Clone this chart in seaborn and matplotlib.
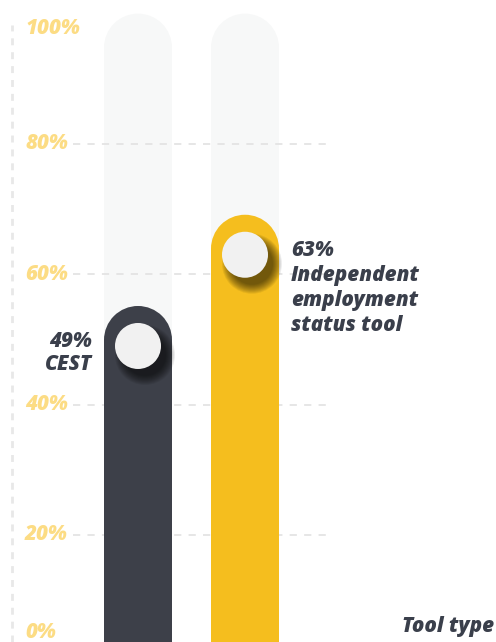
import matplotlib
matplotlib.use("Agg")
import matplotlib.pyplot as plt
from matplotlib.patches import Ellipse, Rectangle
import pandas as pd
import seaborn as sns

# Data
tools = ["CEST", "Independent employment status tool"]
shares = [49, 63]
track = [100, 100]
tick_values = [0, 20, 40, 60, 80, 100]
tick_labels = ["0%", "20%", "40%", "60%", "80%", "100%"]
axis_title = "Tool type"
bar_labels = ["49%\nCEST", "63%\nIndependent\nemployment\nstatus tool"]

sns.set_theme(style="white")
plt.rcParams["font.family"] = ["Open Sans", "DejaVu Sans"]

DARK = "#3d4049"
YELLOW = "#f5be1e"
TRACK = "#f7f8f8"
TICK = "#fcdc84"
TEXT = "#3a3f4b"
GRID = "#e4e4e4"
FW = 800
FS = 14.9

W, H, DPI = 496, 642, 100
fig = plt.figure(figsize=(W / DPI, H / DPI), dpi=DPI)
ax = fig.add_axes([0, 0, 1, 1])

# scales: 107 px between bar centres, 6.517 px per percentage point
px_x = 107.0
px_y = 391.0 / 60.0
x0_px = 138.0
y0_px = -23.3  # pixel height of 0 %
xlim = (-x0_px / px_x, (W - x0_px) / px_x)
ylim = (-y0_px / px_y, (H - y0_px) / px_y)

df = pd.DataFrame({"tool": tools, "share": shares, "track": track})

bar_w = 68.0 / px_x
r_y = 34.0 / px_y  # cap radius in y units
lift = 6.0 / px_y  # cap centre sits slightly above the knob


def rects(axis):
    return [p for p in axis.patches if isinstance(p, Rectangle)]


# background tracks
sns.barplot(data=df, x="tool", y="track", color=TRACK, width=bar_w,
            saturation=1, ax=ax, zorder=1)
track_rects = rects(ax)
for p in track_rects:
    p.set_edgecolor("none")
    top = p.get_height() - r_y
    p.set_height(top)
    ax.add_patch(Ellipse((p.get_x() + p.get_width() / 2, top), p.get_width(), 2 * r_y,
                         facecolor=TRACK, edgecolor="none", zorder=1))

# grid lines
for v in tick_values[1:-1]:
    ax.hlines(v, (73 - x0_px) / px_x, (333 - x0_px) / px_x, colors=GRID,
              linestyles=(0, (4, 4)), linewidth=1.3, zorder=2)

# value bars
sns.barplot(data=df, x="tool", y="share", hue="tool", palette=[DARK, YELLOW],
            width=bar_w, saturation=1, legend=False, ax=ax, zorder=3)
bars = [p for p in rects(ax) if p not in track_rects]
bars.sort(key=lambda p: p.get_x())
for p in bars:
    c = p.get_facecolor()
    p.set_edgecolor("none")
    cx = p.get_x() + p.get_width() / 2
    top = p.get_height()
    p.set_height(top + lift)
    ax.add_patch(Ellipse((cx, top + lift), p.get_width(), 2 * r_y,
                         facecolor=c, edgecolor="none", zorder=3))
    # soft shadow under the knob
    for k in range(10):
        d = 30 - k * 1.0
        ax.add_patch(Ellipse((cx + 7 / px_x, top - 9 / px_y), 2 * d / px_x, 2 * d / px_y,
                             facecolor="black", edgecolor="none", alpha=0.07,
                             zorder=4))
    ax.add_patch(Ellipse((cx, top), 46 / px_x, 46 / px_y,
                         facecolor="#f1f1f1", edgecolor="none", zorder=5))

ax.set_xlim(*xlim)
ax.set_ylim(*ylim)
ax.axis("off")

# vertical dashed axis line
ax.vlines((12 - x0_px) / px_x, ylim[0], (H - 25 - y0_px) / px_y, colors="#e8e8e8",
          linestyles=(0, (2.5, 2.5)), linewidth=2.0, zorder=2)

# y tick labels, kept inside the visible area
lo = (10 - y0_px) / px_y
hi = (H - 29 - y0_px) / px_y
for v, lab in zip(tick_values, tick_labels):
    ax.text((25 - x0_px) / px_x, min(max(v, lo), hi), lab, color=TICK,
            fontsize=FS, fontweight=FW, fontstyle="italic",
            ha="left", va="center", zorder=6)

# value labels beside the knobs
ax.annotate(bar_labels[0], (-0.43, shares[0]), xytext=(0, 10.5), textcoords="offset points",
            color=TEXT, fontsize=FS, fontweight=FW, fontstyle="italic",
            ha="right", va="top", linespacing=1.08, zorder=6)
ax.annotate(bar_labels[1], (1.43, shares[1]), xytext=(0, 10.5), textcoords="offset points",
            color=TEXT, fontsize=FS, fontweight=FW, fontstyle="italic",
            ha="left", va="top", linespacing=1.25, zorder=6)

ax.text((494 - x0_px) / px_x, (10 - y0_px) / px_y, axis_title, color=TEXT,
        fontsize=FS, fontweight=FW, fontstyle="italic", ha="right",
        va="baseline", zorder=6)

fig.savefig("out.png", dpi=DPI)
